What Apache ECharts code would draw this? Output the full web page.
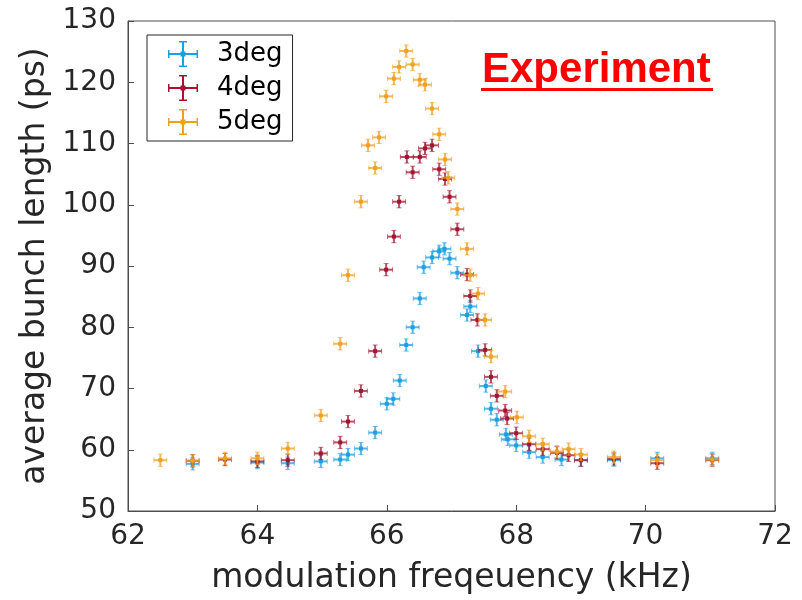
<!DOCTYPE html>
<html>
<head>
<meta charset="utf-8">
<script src="https://cdn.jsdelivr.net/npm/echarts@6/dist/echarts.min.js"></script>
<style>html,body{margin:0;padding:0;background:#fff}#c{width:802px;height:600px}</style>
</head>
<body>
<div id="c"></div>
<script>
// ---- data ----
var seriesNames = ['3deg', '4deg', '5deg'];
var xTicks = [62, 64, 66, 68, 70, 72];
var yTicks = [50, 60, 70, 80, 90, 100, 110, 120, 130];

var x3 = [63.0, 64.0, 64.47, 64.98, 65.28, 65.4, 65.6, 65.82, 66.0, 66.1, 66.2, 66.3, 66.4, 66.51, 66.57, 66.7, 66.81, 66.89, 66.97, 67.09, 67.24, 67.29, 67.41, 67.53, 67.61, 67.7, 67.84, 67.87, 68.0, 68.2, 68.41, 68.7, 69.0, 69.51, 70.18, 71.03];
var y3 = [57.7, 57.9, 57.8, 58.1, 58.4, 59.2, 60.2, 62.8, 67.5, 68.3, 71.3, 77.1, 80.0, 84.7, 89.8, 91.4, 92.4, 92.8, 91.2, 88.9, 82.0, 83.4, 76.1, 70.4, 66.7, 64.9, 62.5, 61.7, 60.7, 59.6, 58.8, 58.4, 58.3, 58.3, 58.6, 58.6];

var x4 = [63.0, 63.5, 64.0, 64.47, 64.98, 65.28, 65.4, 65.6, 65.82, 65.99, 66.11, 66.19, 66.31, 66.4, 66.51, 66.59, 66.7, 66.81, 66.9, 66.97, 67.09, 67.24, 67.29, 67.40, 67.52, 67.61, 67.70, 67.83, 67.86, 68.0, 68.2, 68.41, 68.63, 68.81, 69.0, 69.51, 70.18, 71.03];
var y4 = [58.2, 58.4, 58.1, 58.3, 59.4, 61.2, 64.6, 69.6, 76.1, 89.4, 94.8, 100.5, 107.8, 105.3, 107.8, 109.2, 109.7, 105.8, 104.2, 101.3, 96.0, 88.6, 85.1, 81.2, 76.3, 71.9, 68.8, 66.4, 65.1, 62.7, 60.9, 60.1, 59.5, 59.1, 58.3, 58.5, 57.8, 58.3];

var x5 = [62.5, 63.0, 63.5, 64.0, 64.47, 64.98, 65.28, 65.4, 65.6, 65.71, 65.82, 65.88, 65.99, 66.11, 66.19, 66.30, 66.40, 66.51, 66.59, 66.70, 66.81, 66.90, 66.95, 67.09, 67.24, 67.29, 67.41, 67.52, 67.61, 67.83, 68.01, 68.2, 68.41, 68.63, 68.81, 69.0, 69.51, 70.18, 71.03];
var y5 = [58.3, 58.2, 58.6, 58.6, 60.2, 65.6, 77.3, 88.5, 100.5, 109.7, 106.0, 111.0, 117.7, 120.6, 122.5, 125.1, 122.9, 120.4, 119.6, 115.7, 111.5, 107.4, 104.4, 99.3, 92.8, 88.5, 85.5, 81.2, 75.2, 69.5, 65.3, 62.2, 60.9, 59.7, 60.1, 59.2, 58.8, 58.3, 58.4];

var xErr = 0.1;   // kHz, half-width of horizontal error bars
var yErr = 1.0;   // ps, half-height of vertical error bars

var colors = ['#1a9fe0', '#a2142f', '#efa020'];
var textColor = '#262626';

function zip(xs, ys) { return xs.map(function (x, i) { return [x, ys[i]]; }); }

function renderErr(color) {
  return function (params, api) {
    var x = api.value(0), y = api.value(1);
    var c = api.coord([x, y]);
    var l = api.coord([x - xErr, y]);
    var r = api.coord([x + xErr, y]);
    var t = api.coord([x, y + yErr]);
    var b = api.coord([x, y - yErr]);
    var ls = { stroke: color, lineWidth: 2, opacity: 0.75 };
    var cs = { stroke: color, lineWidth: 1, opacity: 0.6 };
    var cap = 2.5;
    return {
      type: 'group',
      children: [
        { type: 'line', shape: { x1: l[0], y1: l[1], x2: r[0], y2: r[1] }, style: ls },
        { type: 'line', shape: { x1: t[0], y1: t[1], x2: b[0], y2: b[1] }, style: ls },
        { type: 'line', shape: { x1: l[0], y1: l[1] - cap, x2: l[0], y2: l[1] + cap }, style: cs },
        { type: 'line', shape: { x1: r[0], y1: r[1] - cap, x2: r[0], y2: r[1] + cap }, style: cs },
        { type: 'line', shape: { x1: t[0] - cap, y1: t[1], x2: t[0] + cap, y2: t[1] }, style: cs },
        { type: 'line', shape: { x1: b[0] - cap, y1: b[1], x2: b[0] + cap, y2: b[1] }, style: cs },
        { type: 'rect', shape: { x: c[0] - 2, y: c[1] - 2, width: 4, height: 4 }, style: { fill: color } }
      ]
    };
  };
}

var icon = 'path://M0,12H30V14H0Z M0,9H1.5V17H0Z M28.5,9H30V17H28.5Z M14,0H16V26H14Z M11,0H19V1.5H11Z M11,24.5H19V26H11Z M12.5,10.5H17.5V15.5H12.5Z';

var dataSets = [zip(x3, y3), zip(x4, y4), zip(x5, y5)];

var chart = echarts.init(document.getElementById('c'), null, { renderer: 'canvas' });
chart.setOption({
  animation: false,
  backgroundColor: '#fff',
  color: colors,
  title: {
    text: 'Experiment',
    left: 482, top: 49, padding: 0,
    textStyle: { color: '#ff0000', fontWeight: 'bold', fontSize: 42, fontFamily: '"Liberation Sans", Arial, sans-serif' }
  },
  graphic: [
    { type: 'rect', shape: { x: 481, y: 88, width: 232, height: 3 }, style: { fill: '#ff0000' }, silent: true }
  ],
  legend: {
    orient: 'vertical',
    left: 147, top: 35,
    padding: [6, 10, 6, 21],
    itemWidth: 30, itemHeight: 26, itemGap: 8,
    borderColor: textColor, borderWidth: 1,
    backgroundColor: '#fff',
    data: seriesNames.map(function (n) { return { name: n, icon: icon }; }),
    textStyle: { fontSize: 26, color: '#000', fontFamily: '"DejaVu Sans", sans-serif', padding: [0, 0, 0, 14], lineHeight: 26 }
  },
  grid: { left: 128, right: 27, top: 21, bottom: 86, show: true, borderColor: '#4d4d4d', borderWidth: 1 },
  xAxis: {
    type: 'value', min: 62, max: 72, interval: 2,
    name: 'modulation freqeuency (kHz)', nameLocation: 'middle', nameGap: 51,
    nameTextStyle: { fontSize: 33, color: textColor, fontFamily: '"DejaVu Sans", sans-serif' },
    axisLine: { lineStyle: { color: '#4d4d4d', width: 1 } },
    axisTick: { inside: true, length: 6, lineStyle: { color: '#4d4d4d' } },
    axisLabel: { fontSize: 28, color: textColor, fontFamily: '"DejaVu Sans", sans-serif', margin: 12,
      formatter: function (v) { return xTicks.indexOf(v) >= 0 ? String(v) : ''; } },
    splitLine: { show: false }
  },
  yAxis: {
    type: 'value', min: 50, max: 130, interval: 10,
    name: 'average bunch length (ps)', nameLocation: 'middle', nameGap: 76,
    nameTextStyle: { fontSize: 33, color: textColor, fontFamily: '"DejaVu Sans", sans-serif' },
    axisLine: { show: true, lineStyle: { color: '#4d4d4d', width: 1 } },
    axisTick: { show: true, inside: true, length: 6, lineStyle: { color: '#4d4d4d' } },
    axisLabel: { fontSize: 28, color: textColor, fontFamily: '"DejaVu Sans", sans-serif', margin: 12,
      formatter: function (v) { return yTicks.indexOf(v) >= 0 ? String(v) : ''; } },
    splitLine: { show: false }
  },
  series: seriesNames.map(function (n, i) {
    return {
      name: n, type: 'custom', data: dataSets[i],
      renderItem: renderErr(colors[i]),
      encode: { x: 0, y: 1 },
      itemStyle: { color: colors[i] },
      clip: true
    };
  })
});
</script>
</body>
</html>
